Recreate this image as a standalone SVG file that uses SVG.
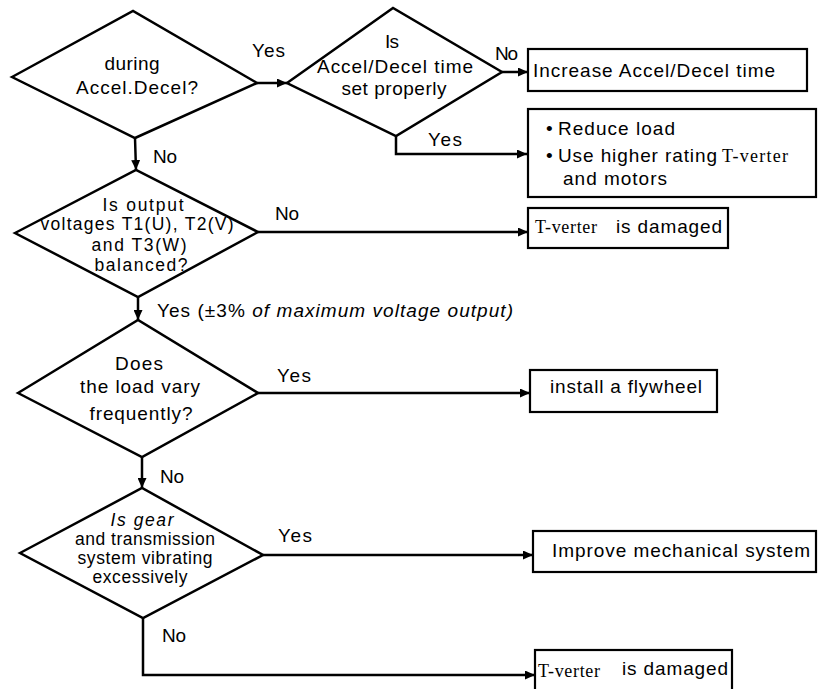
<svg xmlns="http://www.w3.org/2000/svg" width="818" height="689" viewBox="0 0 818 689">
<style>
  .shape{fill:none;stroke:#000;stroke-width:2.5;stroke-linejoin:miter}
  .box{fill:#fff;stroke:#000;stroke-width:2.2}
  .conn{fill:none;stroke:#000;stroke-width:2.5}
  text{font-family:"Liberation Sans",Arial,sans-serif;font-size:19px;fill:#000}
  .c{text-anchor:middle}
  .it{font-style:italic}
  .sm{font-size:17.5px}
  .serif{font-family:"Liberation Serif","Times New Roman",serif;font-size:18px}
</style>
<defs>
  <marker id="arr" markerUnits="userSpaceOnUse" markerWidth="11" markerHeight="9" refX="10" refY="4.5" orient="auto">
    <path d="M0,0 L10,4.5 L0,9 z" fill="#000"/>
  </marker>
</defs>
<rect width="818" height="689" fill="#fff"/>

<g id="connectors">
  <polyline class="conn" points="257,83 287,83" marker-end="url(#arr)"/>
  <polyline class="conn" points="502,72 528,72" marker-end="url(#arr)"/>
  <polyline class="conn" points="396,136 396,154 527,154" marker-end="url(#arr)"/>
  <polyline class="conn" points="135,138 136,170" marker-end="url(#arr)"/>
  <polyline class="conn" points="258,232 528,232" marker-end="url(#arr)"/>
  <polyline class="conn" points="138,297 138,320" marker-end="url(#arr)"/>
  <polyline class="conn" points="258,393 530,393" marker-end="url(#arr)"/>
  <polyline class="conn" points="142,457 142,488" marker-end="url(#arr)"/>
  <polyline class="conn" points="263,555 533,555" marker-end="url(#arr)"/>
  <polyline class="conn" points="143,618 143,675 535,675" marker-end="url(#arr)"/>
  <text x="252" y="57" textLength="33">Yes</text>
  <text x="495" y="60" textLength="23">No</text>
  <text x="428" y="146" textLength="34">Yes</text>
  <text x="153" y="163" textLength="24">No</text>
  <text x="275" y="220" textLength="24">No</text>
  <text x="157" y="317" textLength="356">Yes (±3% <tspan class="it">of maximum voltage output)</tspan></text>
  <text x="277" y="382" textLength="34">Yes</text>
  <text x="160" y="483" textLength="24">No</text>
  <text x="278" y="542" textLength="34">Yes</text>
  <text x="162" y="642" textLength="24">No</text>
</g>

<g id="d1">
  <polygon class="shape" points="12,77 133,11 257,83 135,138"/>
  <text class="c" x="132" y="70" textLength="55">during</text>
  <text class="c" x="137" y="94" textLength="122">Accel.Decel?</text>
</g>

<g id="d2">
  <polygon class="shape" points="287,83 393,8 502,72 396,136"/>
  <text class="c" x="392" y="48" textLength="14">Is</text>
  <text class="c" x="395" y="73" textLength="156">Accel/Decel time</text>
  <text class="c" x="394" y="95" textLength="105">set properly</text>
</g>

<g id="b1">
  <rect class="box" x="528" y="49" width="279" height="42"/>
  <text x="533" y="77" textLength="242">Increase Accel/Decel time</text>
</g>

<g id="b2">
  <rect class="box" x="528" y="109" width="288" height="88"/>
  <text x="546" y="135">•</text>
  <text x="558" y="135" textLength="117">Reduce load</text>
  <text x="546" y="162">•</text>
  <text x="558" y="162" textLength="159">Use higher rating</text>
  <text class="serif" x="722" y="162" textLength="66">T-verter</text>
  <text x="563" y="185" textLength="104">and motors</text>
</g>

<g id="d3">
  <polygon class="shape" points="15,233 136,170 258,232 138,297"/>
  <text class="c sm" x="143" y="211" textLength="81">Is output</text>
  <text class="c sm" x="137" y="230" textLength="193">voltages T1(U), T2(V)</text>
  <text class="c sm" x="139" y="251" textLength="95">and T3(W)</text>
  <text class="c sm" x="141" y="271" textLength="93">balanced?</text>
</g>

<g id="b3">
  <rect class="box" x="528" y="208" width="200" height="40"/>
  <text class="serif" x="535" y="233" textLength="62">T-verter</text>
  <text x="616" y="233" textLength="106">is damaged</text>
</g>

<g id="d4">
  <polygon class="shape" points="18,393 138,320 258,393 142,457"/>
  <text class="c" x="139" y="370" textLength="48">Does</text>
  <text class="c" x="140" y="393" textLength="120">the load vary</text>
  <text class="c" x="141" y="420" textLength="103">frequently?</text>
</g>

<g id="b4">
  <rect class="box" x="530" y="370" width="187" height="42"/>
  <text x="550" y="393" textLength="152">install a flywheel</text>
</g>

<g id="d5">
  <polygon class="shape" points="20,553 142,488 263,555 143,618"/>
  <text class="c it sm" x="142" y="526" textLength="63">Is gear</text>
  <text class="c sm" x="145" y="545" textLength="140">and transmission</text>
  <text class="c sm" x="145" y="564" textLength="135">system vibrating</text>
  <text class="c sm" x="140" y="583" textLength="95">excessively</text>
</g>

<g id="b5">
  <rect class="box" x="533" y="531" width="283" height="41"/>
  <text x="552" y="557" textLength="258">Improve mechanical system</text>
</g>

<g id="b6">
  <rect class="box" x="535" y="650" width="197" height="50"/>
  <text class="serif" x="538" y="677" textLength="62">T-verter</text>
  <text x="622" y="675" textLength="106">is damaged</text>
</g>
</svg>
